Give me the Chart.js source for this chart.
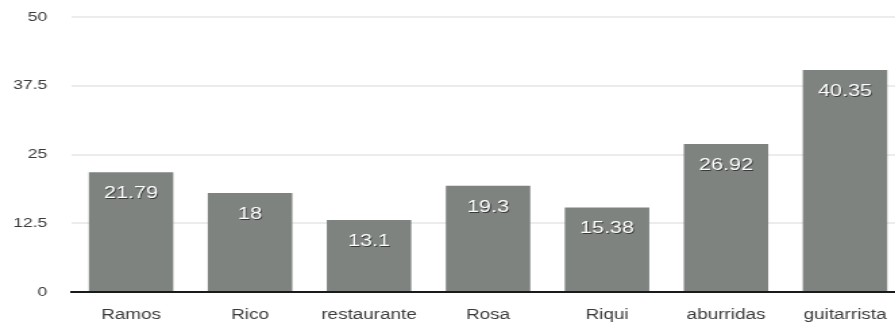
<!DOCTYPE html>
<html>
<head>
<meta charset="utf-8">
<script src="https://cdn.jsdelivr.net/npm/chart.js@4.4.0/dist/chart.umd.min.js"></script>
<style>
  html, body { margin: 0; padding: 0; background: #fff; overflow: hidden; }
  #wrap { width: 895px; height: 328px; overflow: hidden; }
  /* el original está estirado en horizontal */
  #grafico { transform: scaleX(1.35); transform-origin: 0 0; display: block; }
</style>
</head>
<body>
<div id="wrap"><canvas id="grafico" width="670" height="328"></canvas></div>
<script>
// Datos del gráfico
const categorias = ['Ramos', 'Rico', 'restaurante', 'Rosa', 'Riqui', 'aburridas', 'guitarrista'];
const valores = [21.79, 18, 13.1, 19.3, 15.38, 26.92, 40.35];
const ticksY = [0, 12.5, 25, 37.5, 50];

const fuente = '"Liberation Sans", Arial, sans-serif';

// Etiquetas blancas dentro de cada barra
const etiquetasBarras = {
    id: 'etiquetasBarras',
    afterDatasetsDraw(chart) {
        const ctx = chart.ctx;
        const meta = chart.getDatasetMeta(0);
        ctx.save();
        ctx.font = '16px ' + fuente;
        ctx.textAlign = 'center';
        ctx.textBaseline = 'middle';
        meta.data.forEach(function (bar, i) {
            const texto = String(valores[i]);
            ctx.fillStyle = 'rgba(45,45,45,0.85)';
            ctx.fillText(texto, bar.x + 0.8, bar.y + 22.5);
            ctx.fillStyle = '#ffffff';
            ctx.fillText(texto, bar.x, bar.y + 21.5);
        });
        ctx.restore();
    }
};

new Chart(document.getElementById('grafico'), {
    type: 'bar',
    data: {
        labels: categorias,
        datasets: [{
            data: valores,
            backgroundColor: '#7e8380',
            borderWidth: 0,
            categoryPercentage: 0.71,
            barPercentage: 1
        }]
    },
    options: {
        responsive: false,
        animation: false,
        layout: { padding: { top: 17, left: 0, right: 0, bottom: 0 } },
        plugins: {
            legend: { display: false },
            tooltip: { enabled: false }
        },
        scales: {
            x: {
                grid: { display: false },
                border: { display: true, color: '#1a1a1a', width: 2 },
                ticks: {
                    color: '#3a3a3a',
                    font: { family: fuente, size: 14 },
                    padding: 7
                },
                afterFit(scale) {
                    scale.height = 36;
                    scale.paddingLeft = 0;
                    scale.paddingRight = 0;
                }
            },
            y: {
                min: 0,
                max: 50,
                afterBuildTicks(scale) {
                    scale.ticks = ticksY.map(function (v) { return { value: v }; });
                },
                grid: { color: '#ececec', lineWidth: 2, drawTicks: false },
                border: { display: false },
                ticks: {
                    color: '#3a3a3a',
                    font: { family: fuente, size: 13 },
                    padding: 18,
                    callback: function (v) { return String(v); }
                },
                afterFit(scale) {
                    scale.width = 53;
                    scale.paddingTop = 0;
                    scale.paddingBottom = 0;
                }
            }
        }
    },
    plugins: [etiquetasBarras]
});
</script>
</body>
</html>
